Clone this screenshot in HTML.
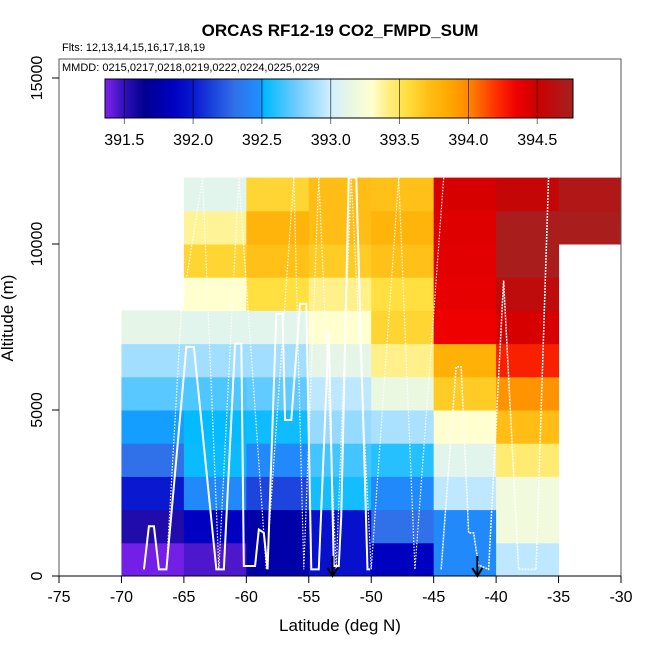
<!DOCTYPE html>
<html><head><meta charset="utf-8"><style>
body{margin:0;background:#fff}
svg text{font-family:"Liberation Sans",sans-serif}
</style></head><body>
<svg id="chart" width="650" height="650" xmlns="http://www.w3.org/2000/svg">
<defs>
<linearGradient id="cbg" x1="0" x2="1" y1="0" y2="0"></linearGradient>
<clipPath id="pc"><rect x="59" y="59" width="562" height="517"/></clipPath>
</defs>
<text x="340" y="36" text-anchor="middle" font-size="17" font-weight="bold">ORCAS RF12-19 CO2_FMPD_SUM</text>
<text x="62" y="51" font-size="11">Flts: 12,13,14,15,16,17,18,19</text>
<g id="cells" clip-path="url(#pc)"></g>
<g id="tracks" clip-path="url(#pc)" fill="none" stroke="#fff"></g>
<rect x="59" y="59" width="562" height="517" fill="none" stroke="#555" stroke-width="1"/>
<text x="62" y="71" font-size="11">MMDD: 0215,0217,0218,0219,0222,0224,0225,0229</text>
<g id="colorbar"></g>
<g id="axes"></g>
<text x="340" y="631" text-anchor="middle" font-size="17">Latitude (deg N)</text>
<text x="13" y="318" text-anchor="middle" font-size="17" transform="rotate(-90 13 318)">Altitude (m)</text>
</svg>
<script>
const latBins=[-70,-65,-60,-55,-50,-45,-40,-35];
const altBins=[0,1000,2000,3000,4000,5000,6000,7000,8000,9000,10000,11000];
// values[row][col], row = altitude bin, col = latitude bin; null = no data
const co2Values=[
[391.35,391.45,391.75,391.95,391.85,392.45,392.95,null],
[391.55,391.85,391.75,391.95,392.3,392.45,393.2,null],
[392.0,392.45,392.15,392.56,392.45,392.95,393.2,null],
[392.3,392.54,392.45,392.66,392.6,393.1,393.45,null],
[392.5,392.53,392.55,392.85,392.9,393.3,393.72,null],
[392.7,392.68,392.72,392.95,393.15,393.65,393.95,null],
[392.88,392.88,392.88,393.12,393.4,393.8,394.25,null],
[393.12,393.1,393.1,393.3,393.6,394.35,394.45,null],
[null,393.3,393.55,393.4,393.55,394.38,394.6,null],
[null,393.6,393.7,393.65,393.7,394.4,394.75,null],
[null,393.38,393.78,393.72,393.78,394.42,394.75,394.75],
[null,393.1,393.6,393.72,393.7,394.45,394.55,394.7]];
const xTicks=[-75,-70,-65,-60,-55,-50,-45,-40,-35,-30];
const yTicks=[0,5000,10000,15000];
const cbTicks=[391.5,392.0,392.5,393.0,393.5,394.0,394.5];
const arrowLats=[-53.1,-41.5];
const trackLat=[-68.2,-67.8,-67.4,-67,-66.4,-64.8,-64.2,-62.4,-61.8,-60.9,-60.4,-60.2,-59.3,-59,-58.6,-58.3,-57.6,-57.1,-56.9,-56.4,-55.7,-55.2,-54.8,-54.2,-53.4,-53,-52.6,-52.4,-51.8,-51.2,-50.3,-50.1];
const trackAlt=[200,1500,1500,200,200,6900,6900,200,200,7000,7000,300,300,1400,1300,200,7900,7900,4700,4700,8200,8200,200,200,7400,300,300,1800,12000,12000,200,200];
const track2Lat=[-44.4,-43.2,-42.8,-42.2,-41.8,-41.4,-41.2,-40.6,-39.4,-38.2,-37.4,-36.8,-35.8];
const track2Alt=[200,6300,6300,1300,1300,300,300,200,8900,200,200,200,12000];
const track3Lat=[-66.4,-65.2,-63.5,-62.2,-60.6,-58.4,-56.2,-55.4,-54.2,-52.8,-51.6,-50.0,-47.8,-46.5,-44.2];
const track3Alt=[200,8000,12000,200,12000,200,12000,200,12000,200,12000,200,12000,200,12000];

const NS="http://www.w3.org/2000/svg";
const X=v=>59+(v+75)*562/45;
const Y=a=>576-a*0.0332;
const stops=[[391.29,"#8020f0"],[391.4,"#6a1ee0"],[391.5,"#3010b8"],[391.65,"#000090"],[391.85,"#0000c0"],[392.0,"#0a18d0"],[392.3,"#3070e8"],[392.49,"#1e90ff"],[392.52,"#00baff"],[392.75,"#70ccff"],[393.0,"#d0efff"],[393.15,"#eaf8e2"],[393.3,"#ffffd0"],[393.4,"#fff08a"],[393.55,"#ffe040"],[393.7,"#ffc018"],[393.85,"#ffaa00"],[394.0,"#ff8800"],[394.2,"#ff3000"],[394.35,"#ee0000"],[394.5,"#cc0000"],[394.78,"#a52020"]];
function hx(c){return [1,3,5].map(i=>parseInt(c.substr(i,2),16));}
function col(v){
  if(v<=stops[0][0])return stops[0][1];
  for(let i=1;i<stops.length;i++){if(v<=stops[i][0]){const a=hx(stops[i-1][1]),b=hx(stops[i][1]);const t=(v-stops[i-1][0])/(stops[i][0]-stops[i-1][0]);return "rgb("+a.map((x,k)=>Math.round(x+(b[k]-x)*t)).join(",")+")";}}
  return stops[stops.length-1][1];
}
function el(t,at,p){const e=document.createElementNS(NS,t);for(const k in at)e.setAttribute(k,at[k]);p.appendChild(e);return e;}
const cells=document.getElementById('cells');
co2Values.forEach((row,r)=>row.forEach((v,c)=>{
  if(v===null)return;
  const e=el('rect',{x:X(latBins[c]),y:Y(altBins[r]+1000),width:X(latBins[c]+5)-X(latBins[c])+0.5,height:Y(altBins[r])-Y(altBins[r]+1000)+0.5,fill:col(v)},cells);
  
  
}));
const tr=document.getElementById('tracks');
function poly(la,al,w,dash,name){
  const e=el('polyline',{points:la.map((v,i)=>X(v)+","+Y(al[i])).join(" "),'stroke-width':w},tr);
  if(dash)e.setAttribute('stroke-dasharray',dash);
  
  
}
poly(trackLat,trackAlt,2,null,'flight-track-solid');
poly(track2Lat,track2Alt,1.5,"2,1",'flight-track-north');
poly(track3Lat,track3Alt,1.2,"1.5,1.5",'flight-track-dotted');
const ax=document.getElementById('axes');
arrowLats.forEach(l=>{
  const g=el('g',{},ax);
  
  
  el('line',{x1:X(l),y1:556,x2:X(l),y2:575,stroke:'#000','stroke-width':2},g);
  el('polyline',{points:(X(l)-5)+",568 "+X(l)+",576 "+(X(l)+5)+",568",fill:'none',stroke:'#000','stroke-width':2},g);
});
el('line',{x1:X(-75),y1:576,x2:X(-30),y2:576,stroke:'#000'},ax);
xTicks.forEach(t=>{
  el('line',{x1:X(t),y1:576,x2:X(t),y2:583,stroke:'#000'},ax);
  const e=el('text',{x:X(t),y:602,'text-anchor':'middle','font-size':16},ax);e.textContent=t;
  
  
});
yTicks.forEach(t=>{
  el('line',{x1:52,y1:Y(t),x2:59,y2:Y(t),stroke:'#000'},ax);
  const e=el('text',{x:42,y:Y(t),'text-anchor':'middle','font-size':16,transform:`rotate(-90 42 ${Y(t)})`},ax);e.textContent=t;
  
  
});
// colorbar
const cbMin=391.36,cbMax=394.76,cbX0=105,cbX1=573;
const CX=v=>cbX0+(v-cbMin)*(cbX1-cbX0)/(cbMax-cbMin);
const gr=document.getElementById('cbg');
stops.forEach(s=>{if(s[0]<cbMin-0.1)return;el('stop',{offset:Math.max(0,(s[0]-cbMin)/(cbMax-cbMin)),'stop-color':s[1]},gr);});
const cb=document.getElementById('colorbar');
const bar=el('rect',{x:cbX0,y:79,width:cbX1-cbX0,height:39,fill:'url(#cbg)',stroke:'#000','stroke-width':1},cb);


cbTicks.forEach(t=>{
  el('line',{x1:CX(t),y1:79,x2:CX(t),y2:124,stroke:'#000','stroke-width':0.8,'stroke-opacity':0.7},cb);
  const e=el('text',{x:CX(t),y:145,'text-anchor':'middle','font-size':16},cb);e.textContent=t.toFixed(1);
  
  
});
</script>
</body></html>
